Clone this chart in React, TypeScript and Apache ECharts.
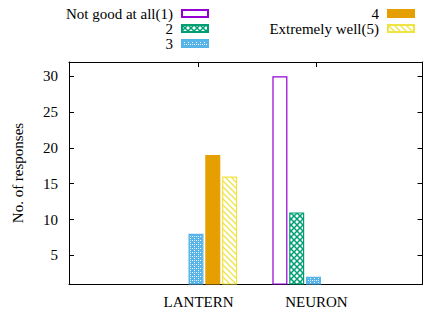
import React, { useEffect, useRef } from 'react';
import * as echarts from 'echarts';

const categories = ['LANTERN', 'NEURON'];
const seriesNames = ['Not good at all(1)', '2', '3', '4', 'Extremely well(5)'];
const notGoodAtAll = [0, 30];
const levelTwo = [0, 11];
const levelThree = [8, 2];
const levelFour = [19, 0];
const extremelyWell = [16, 0];
const yTickValues = [5, 10, 15, 20, 25, 30];
const xTickValues = [0, 1];

const FONT = '"Liberation Serif", "Times New Roman", serif';

const svgUrl = (w: number, h: number, body: string) =>
  'data:image/svg+xml;charset=utf-8,' +
  encodeURIComponent(
    `<svg xmlns="http://www.w3.org/2000/svg" width="${w}" height="${h}" shape-rendering="crispEdges">${body}</svg>`
  );

const crossPattern = {
  image: svgUrl(6, 6, '<rect width="6" height="6" fill="#fff"/><path d="M0 0L6 6M6 0L0 6" stroke="#009e73" stroke-width="1.5" shape-rendering="auto"/>'),
  repeat: 'repeat',
  imageWidth: 6,
  imageHeight: 6,
};
const dotPattern = {
  image: svgUrl(4, 4, '<rect width="4" height="4" fill="#56b4e9"/><rect x="0" y="0" width="1" height="1" fill="#fff"/><rect x="2" y="2" width="1" height="1" fill="#fff"/><rect x="2" y="0" width="1" height="1" fill="#cde9f8"/>'),
  repeat: 'repeat',
  imageWidth: 4,
  imageHeight: 4,
};
const diagPattern = {
  image: svgUrl(6, 6, '<rect width="6" height="6" fill="#fff"/><path d="M0 0L6 6M-1 5L1 7M5 -1L7 1" stroke="#f0e442" stroke-width="1.3" shape-rendering="auto"/>'),
  repeat: 'repeat',
  imageWidth: 6,
  imageHeight: 6,
};

const seriesData = [notGoodAtAll, levelTwo, levelThree, levelFour, extremelyWell];
const fills: any[] = ['#ffffff', crossPattern, dotPattern, '#e69f00', diagPattern];
const borders = ['#9400d3', '#009e73', '#56b4e9', '#e69f00', '#f0e442'];

export default function App() {
  const ref = useRef<HTMLDivElement>(null);
  useEffect(() => {
    if (!ref.current) return;
    const chart = echarts.init(ref.current, null, { renderer: 'svg' });
    const textStyle = { fontFamily: FONT, fontSize: 15, color: '#000' };
    const legendBase = {
      orient: 'vertical',
      align: 'right',
      top: 6,
      itemWidth: 26,
      itemHeight: 7,
      itemGap: 0,
      padding: 0,
      selectedMode: false,
      icon: 'rect',
      textStyle: { ...textStyle, lineHeight: 14.5, padding: [0, 4, 0, 0] },
    };
    const frameLine = { show: true, onZero: false, lineStyle: { color: '#000', width: 1 } };
    chart.setOption({
      animation: false,
      backgroundColor: '#fff',
      legend: [
        { ...legendBase, data: seriesNames.slice(0, 3), right: 216 },
        { ...legendBase, data: seriesNames.slice(3), right: 10 },
      ],
      grid: [
        { left: 69, top: 62, right: 2.5, bottom: 26 },
        { left: 137.25, top: 62, width: 235, bottom: 26 },
      ],
      xAxis: [
        {
          type: 'value',
          gridIndex: 0,
          min: -1.1,
          max: 1.9,
          position: 'bottom',
          z: 1,
          axisLine: frameLine,
          axisTick: { show: true, inside: true, length: 5, customValues: xTickValues, lineStyle: { color: '#000' } },
          axisLabel: {
            show: true,
            customValues: xTickValues,
            margin: 10,
            formatter: (v: number) => categories[Math.round(v)] ?? '',
            ...textStyle,
          },
          splitLine: { show: false },
        },
        {
          type: 'value',
          gridIndex: 0,
          min: -1.1,
          max: 1.9,
          position: 'top',
          z: 10,
          axisLine: frameLine,
          axisTick: { show: true, inside: true, length: 5, customValues: xTickValues, lineStyle: { color: '#000' } },
          axisLabel: { show: false },
          splitLine: { show: false },
        },
        {
          type: 'category',
          gridIndex: 1,
          data: categories,
          show: false,
        },
      ],
      yAxis: [
        {
          type: 'value',
          gridIndex: 0,
          min: 1,
          max: 32,
          position: 'left',
          z: 10,
          name: 'No. of responses',
          nameLocation: 'middle',
          nameGap: 44,
          nameTextStyle: textStyle,
          axisLine: frameLine,
          axisTick: { show: true, inside: true, length: 5, customValues: yTickValues, lineStyle: { color: '#000' } },
          axisLabel: { customValues: yTickValues, margin: 11, ...textStyle },
          splitLine: { show: false },
        },
        {
          type: 'value',
          gridIndex: 0,
          min: 1,
          max: 32,
          position: 'right',
          z: 10,
          axisLine: frameLine,
          axisTick: { show: true, inside: true, length: 5, customValues: yTickValues, lineStyle: { color: '#000' } },
          axisLabel: { show: false },
          splitLine: { show: false },
        },
        {
          type: 'value',
          gridIndex: 1,
          min: 1,
          max: 32,
          show: false,
        },
      ],
      series: seriesNames.map((name, i) => ({
        name,
        type: 'bar',
        xAxisIndex: 2,
        yAxisIndex: 2,
        barWidth: 15,
        barGap: '12%',
        clip: true,
        z: 2,
        data: seriesData[i].map((v) => (v === 0 ? '-' : v)),
        itemStyle: { color: fills[i], borderColor: borders[i], borderWidth: 1.2 },
        emphasis: { disabled: true },
      })),
    });
    return () => chart.dispose();
  }, []);
  return <div ref={ref} style={{ position: 'fixed', left: 0, top: 0, width: 425, height: 310 }} />;
}
